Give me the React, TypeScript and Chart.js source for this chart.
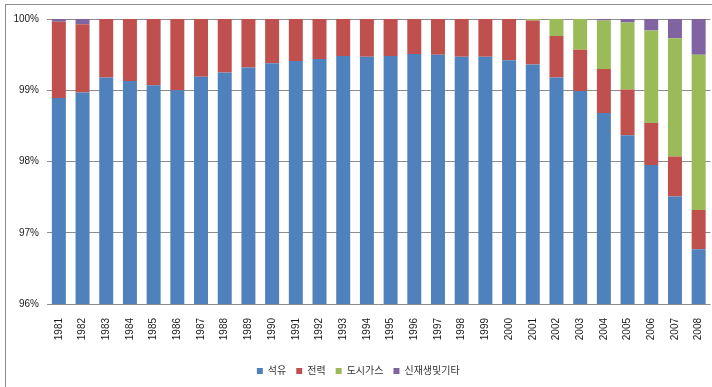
import React, { useEffect, useRef } from "react";
import { Chart, registerables } from "chart.js";

Chart.register(...registerables);

// 연도별 에너지원 구성비 (%)
const years = [
  "1981", "1982", "1983", "1984", "1985", "1986", "1987", "1988", "1989", "1990",
  "1991", "1992", "1993", "1994", "1995", "1996", "1997", "1998", "1999", "2000",
  "2001", "2002", "2003", "2004", "2005", "2006", "2007", "2008",
];

const oil = [
  98.89, 98.97, 99.18, 99.13, 99.07, 99.0, 99.19, 99.25, 99.32, 99.38,
  99.41, 99.44, 99.48, 99.47, 99.48, 99.51, 99.5, 99.47, 99.47, 99.42,
  99.36, 99.18, 98.99, 98.68, 98.37, 97.95, 97.51, 96.77,
];

const power = [
  1.07, 0.955, 0.82, 0.87, 0.93, 1.0, 0.81, 0.75, 0.68, 0.62,
  0.59, 0.56, 0.52, 0.53, 0.52, 0.49, 0.5, 0.53, 0.53, 0.58,
  0.62, 0.58, 0.58, 0.62, 0.64, 0.59, 0.56, 0.55,
];

const cityGas = [
  0, 0, 0, 0, 0, 0, 0, 0, 0, 0,
  0, 0, 0, 0, 0, 0, 0, 0, 0, 0,
  0.02, 0.24, 0.43, 0.68, 0.94, 1.3, 1.66, 2.18,
];

const renewable = [
  0.04, 0.075, 0, 0, 0, 0, 0, 0, 0, 0,
  0, 0, 0, 0, 0, 0, 0, 0, 0, 0,
  0, 0, 0, 0.02, 0.05, 0.16, 0.27, 0.5,
];

const seriesNames = ["석유", "전력", "도시가스", "신재생및기타"];
const seriesColors = ["#4F81BD", "#C0504D", "#9BBB59", "#8064A2"];

const yMin = 96;
const yMax = 100;
const yStep = 1;

const FONT = '"Liberation Sans", "Noto Sans CJK KR", sans-serif';

export default function App() {
  const canvasRef = useRef<HTMLCanvasElement | null>(null);

  useEffect(() => {
    const canvas = canvasRef.current;
    if (!canvas) return;
    const values = [oil, power, cityGas, renewable];
    const chart = new Chart(canvas, {
      type: "bar",
      data: {
        labels: years,
        datasets: values.map((data, i) => ({
          label: seriesNames[i],
          data,
          backgroundColor: seriesColors[i],
          borderWidth: 0,
          barPercentage: 0.59,
          categoryPercentage: 1,
        })),
      },
      options: {
        animation: false,
        responsive: false,
        devicePixelRatio: 1,
        layout: { padding: { top: 13, right: 14.5, bottom: 1, left: 0 } },
        plugins: {
          legend: {
            position: "bottom",
            labels: {
              boxWidth: 6,
              boxHeight: 6,
              padding: 10,
              color: "#333",
              font: { family: FONT, size: 10 },
            },
          },
          tooltip: { enabled: false },
        },
        scales: {
          x: {
            stacked: true,
            grid: { display: false, drawTicks: false },
            border: { display: false },
            ticks: {
              autoSkip: false,
              minRotation: 90,
              maxRotation: 90,
              padding: 14,
              color: "#1a1a1a",
              font: { family: FONT, size: 10 },
            },
            afterFit: (scale: any) => {
              scale.height = 52;
            },
          },
          y: {
            stacked: true,
            min: yMin,
            max: yMax,
            grid: { color: "#8c8c8c", lineWidth: 1, drawTicks: false },
            border: { display: false },
            ticks: {
              stepSize: yStep,
              padding: 8,
              color: "#1a1a1a",
              font: { family: FONT, size: 10 },
              callback: (v: any) => `${v}%`,
            },
            afterFit: (scale: any) => {
              scale.width = 41;
            },
          },
        },
      },
    });
    return () => chart.destroy();
  }, []);

  return (
    <div
      style={{
        position: "fixed",
        left: 0,
        top: 0,
        width: 712,
        height: 387,
        overflow: "hidden",
        background: "#fff",
      }}
    >
      <div
        style={{
          position: "absolute",
          left: 5,
          top: 4,
          width: 719,
          height: 400,
          border: "1px solid #8c8c8c",
        }}
      >
        <canvas ref={canvasRef} width={719} height={382} style={{ display: "block" }} />
      </div>
    </div>
  );
}
